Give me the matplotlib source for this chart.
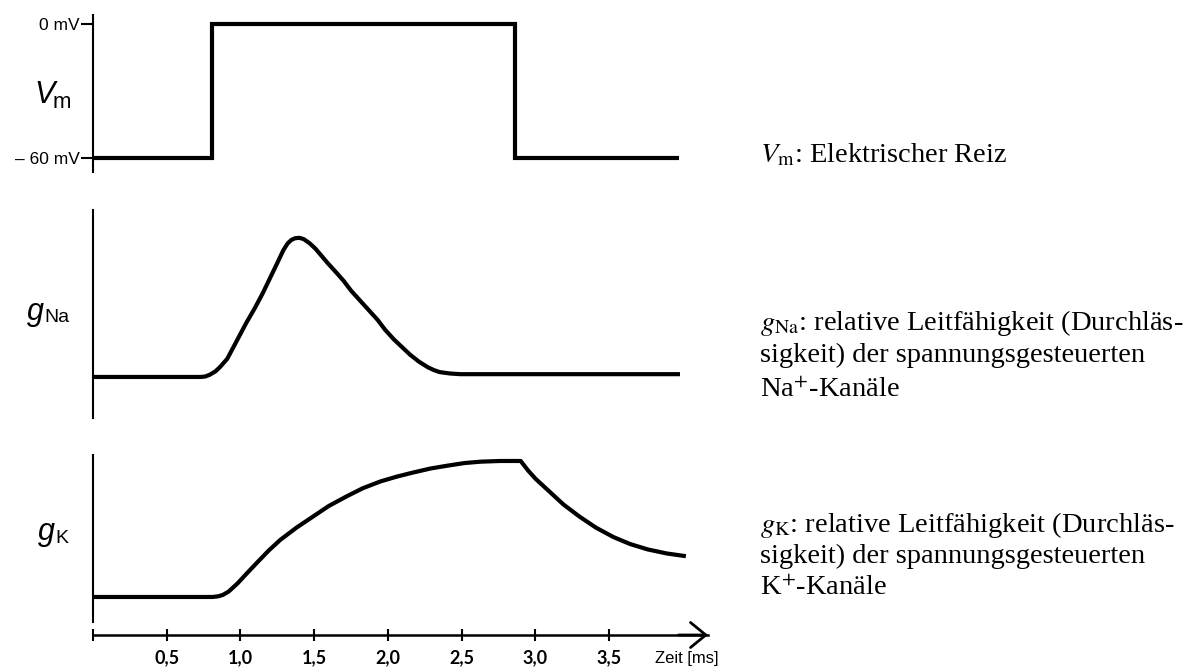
import matplotlib
matplotlib.use('Agg')
import matplotlib.pyplot as plt

# time axis
tick_pos = [0, 0.5, 1.0, 1.5, 2.0, 2.5, 3.0, 3.5]
tick_lbl = ['', '0,5', '1,0', '1,5', '2,0', '2,5', '3,0', '3,5']
t_max = 4.17

# membrane potential (step stimulus)
vm_t = [0, 0.81, 2.86, 3.97]
vm = [-60, 0, -60, -60]

# sodium conductance (relative)
gna_t = [0, 0.73, 0.76, 0.79, 0.83, 0.86, 0.91, 0.97, 1.04, 1.10, 1.15, 1.20,
         1.25, 1.29, 1.32, 1.345, 1.37, 1.40, 1.43, 1.47, 1.51, 1.55, 1.59,
         1.65, 1.70, 1.75, 1.81, 1.87, 1.93, 1.98, 2.04, 2.10, 2.15, 2.21,
         2.27, 2.31, 2.35, 2.42, 2.49, 3.98]
gna = [0, 0, 0.003, 0.015, 0.04, 0.07, 0.13, 0.25, 0.39, 0.50, 0.60, 0.71,
       0.82, 0.91, 0.96, 0.985, 0.997, 1.0, 0.99, 0.96, 0.92, 0.87, 0.82,
       0.75, 0.69, 0.62, 0.55, 0.48, 0.41, 0.34, 0.27, 0.21, 0.16, 0.11,
       0.07, 0.05, 0.035, 0.025, 0.02, 0.02]

# potassium conductance (relative)
gk_t = [0, 0.81, 0.85, 0.88, 0.92, 0.95, 0.98, 1.04, 1.11, 1.19, 1.27, 1.38,
        1.49, 1.60, 1.72, 1.83, 1.95, 2.06, 2.17, 2.29, 2.40, 2.52, 2.63,
        2.76, 2.90, 2.95, 3.00, 3.08, 3.19, 3.30, 3.41, 3.53, 3.64, 3.76,
        3.89, 4.02]
gk = [0, 0, 0.005, 0.015, 0.04, 0.07, 0.10, 0.17, 0.25, 0.34, 0.42, 0.51,
      0.59, 0.67, 0.74, 0.80, 0.85, 0.885, 0.915, 0.945, 0.965, 0.985, 0.995,
      1.0, 1.0, 0.93, 0.87, 0.79, 0.68, 0.59, 0.51, 0.44, 0.39, 0.35,
      0.32, 0.30]

W, H = 1200, 672
fig = plt.figure(figsize=(12, 6.72), dpi=100)


def panel(top, bottom):
    ax = fig.add_axes([93 / W, 1 - bottom / H, (708 - 93) / W, (bottom - top) / H])
    ax.set_xlim(0, t_max)
    for s in ['top', 'right', 'bottom']:
        ax.spines[s].set_visible(False)
    ax.spines['left'].set_linewidth(1.5)
    ax.set_xticks([])
    ax.set_yticks([])
    ax.patch.set_alpha(0)
    return ax


ax1 = panel(15, 172)
ax1.set_ylim(-66.3, 4.0)
ax1.plot(vm_t, vm, color='black', lw=3, drawstyle='steps-post',
         solid_joinstyle='miter', solid_capstyle='butt')
ax1.set_yticks([0, -60])
ax1.set_yticklabels(['0 mV', '\u2013 60 mV'], family='Liberation Sans', fontsize=12.5)
ax1.tick_params(axis='y', direction='out', length=8.5, width=1.5, pad=1)

ax2 = panel(210, 418)
ax2.set_ylim(-0.295, 1.20)
ax2.plot(gna_t, gna, color='black', lw=3, solid_joinstyle='round', solid_capstyle='butt')

ax3 = panel(455, 622)
ax3.set_ylim(-0.184, 1.044)
ax3.plot(gk_t, gk, color='black', lw=3, solid_joinstyle='round', solid_capstyle='butt')

# time axis with arrow
axt = fig.add_axes([93 / W, 1 - 635 / H, (708 - 93) / W, 10 / H])
axt.set_xlim(0, t_max)
axt.set_ylim(0, 1)
for s in ['top', 'right', 'left']:
    axt.spines[s].set_visible(False)
axt.spines['bottom'].set_linewidth(1.8)
axt.set_yticks([])
axt.set_xticks(tick_pos)
axt.set_xticklabels(tick_lbl, family='Lato', fontweight='bold', fontsize=13)
axt.tick_params(axis='x', direction='inout', length=9, width=1.5, pad=6)
axt.patch.set_alpha(0)
axt.annotate('', xy=(t_max, 0), xytext=(t_max - 0.2, 0),
             arrowprops=dict(arrowstyle='->,head_length=0.55,head_width=0.45',
                             lw=2, color='black', mutation_scale=20,
                             shrinkA=0, shrinkB=0))
fig.text(655 / W, 1 - 658 / H, 'Zeit [ms]', family='Liberation Sans', fontsize=12,
         va='center', ha='left')

# left labels
sans = 'Liberation Sans'
fig.text(34 / W, 1 - 103 / H, 'V', family=sans, style='italic', fontsize=22, va='baseline')
fig.text(53 / W, 1 - 108 / H, 'm', family=sans, fontsize=16, va='baseline')
fig.text(27 / W, 1 - 320 / H, 'g', family=sans, style='italic', fontsize=22, va='baseline')
fig.text(44 / W, 1 - 322 / H, 'Na', family=sans, fontsize=14, va='baseline')
fig.text(38 / W, 1 - 540 / H, 'g', family=sans, style='italic', fontsize=22, va='baseline')
fig.text(55 / W, 1 - 543 / H, 'K', family=sans, fontsize=14, va='baseline')

# right-hand descriptions
serif = 'Liberation Serif'
rx = 760 / W
lines = [
    (162, r'$V_{\mathrm{m}}$: Elektrischer Reiz'),
    (330, r'$g_{\mathrm{Na}}$: relative Leitfähigkeit (Durchläs-'),
    (362, 'sigkeit) der spannungsgesteuerten'),
    (397, r'Na$^{+}$-Kanäle'),
    (532, r'$g_{\mathrm{K}}$: relative Leitfähigkeit (Durchläs-'),
    (563, 'sigkeit) der spannungsgesteuerten'),
    (595, r'K$^{+}$-Kanäle'),
]
for y, s in lines:
    fig.text(rx, 1 - y / H, s, family=serif, fontsize=20.5, va='baseline',
             math_fontfamily='stix')

fig.savefig('out.png', dpi=100, facecolor='white')
